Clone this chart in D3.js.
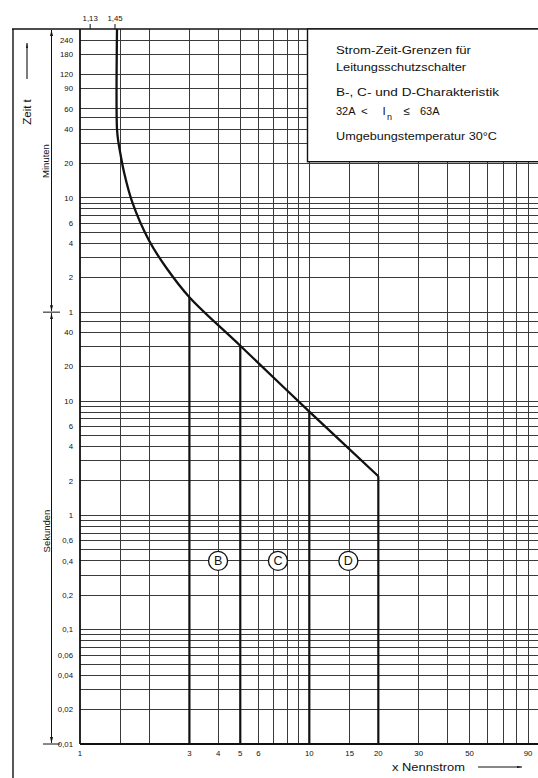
<!DOCTYPE html>
<html>
<head>
<meta charset="utf-8">
<script src="https://cdn.jsdelivr.net/npm/d3@7/dist/d3.min.js"></script>
<style>
  html, body { margin: 0; padding: 0; background: #fff; }
  svg { display: block; }
  .num { font-family: "Liberation Sans", Arial, sans-serif; font-size: 7.8px; fill: #111; }
  .lbl { font-family: "Liberation Sans", Arial, sans-serif; fill: #111; }
</style>
</head>
<body>
<svg id="chart" width="538" height="778"></svg>
<script>
// Multiples of rated current (x) and tripping time (y, seconds)
const currentTicks = [1, 3, 4, 5, 6, 10, 15, 20, 30, 50, 90];
const currentGrid = [1.5, 2, 3, 4, 5, 6, 7, 8, 9, 10, 15, 20, 30, 40, 50, 60, 70, 80, 90];
const topTicks = [1.13, 1.45];

const minuteGrid = [1, 2, 3, 4, 5, 6, 7, 8, 9, 10, 20, 30, 40, 50, 60, 90, 120, 180, 240];
const secondGrid = [0.01, 0.02, 0.03, 0.04, 0.05, 0.06, 0.07, 0.08, 0.09,
                    0.1, 0.2, 0.3, 0.4, 0.5, 0.6, 0.7, 0.8, 0.9,
                    1, 2, 3, 4, 5, 6, 7, 8, 9, 10, 20, 30, 40, 50];
const minuteLabels = [240, 180, 120, 90, 60, 40, 20, 10, 6, 4, 2, 1];
const secondLabels = [40, 20, 10, 6, 4, 2, 1, 0.6, 0.4, 0.2, 0.1, 0.06, 0.04, 0.02, 0.01];

// Upper limit of the tripping curve
const curveCurrent = [1.45, 1.45, 1.47, 1.51, 1.555, 1.69, 2.0, 2.4, 3, 5, 10, 20];
const curveSeconds = [18000, 2400, 1850, 1360, 1010, 550, 254, 143, 81, 30.5, 8.1, 2.2];

// Instantaneous release limits of the characteristics
const boundaryCurrent = [3, 5, 10, 20];
const charNames = ["B", "C", "D"];
const charCurrent = [4, 7.3, 14.8];
const charSeconds = [0.4, 0.4, 0.4];

const svg = d3.select("#chart");

const x = d3.scaleLog().domain([1, 100]).range([80, 538.6]);
const y = d3.scaleLog().domain([0.01, 18000]).range([744, 29]);

const fmt = v => String(v).replace(".", ",");

// Grid
const grid = svg.append("g").attr("shape-rendering", "crispEdges");
const allTimes = secondGrid.concat(minuteGrid.map(m => m * 60));
grid.selectAll("line.h").data(allTimes).join("line")
  .attr("x1", x(1)).attr("x2", 538)
  .attr("y1", d => y(d)).attr("y2", d => y(d))
  .attr("stroke", "#3a3a3a").attr("stroke-width", 1);
grid.selectAll("line.v").data(currentGrid).join("line")
  .attr("x1", d => x(d)).attr("x2", d => x(d))
  .attr("y1", y.range()[1]).attr("y2", y.range()[0])
  .attr("stroke", "#3a3a3a").attr("stroke-width", 1);

// Plot borders and outer frame
svg.append("line").attr("x1", 12).attr("x2", 538).attr("y1", y.range()[1]).attr("y2", y.range()[1])
  .attr("stroke", "#111").attr("stroke-width", 1.6);
svg.append("line").attr("x1", x(1)).attr("x2", 538).attr("y1", y.range()[0]).attr("y2", y.range()[0])
  .attr("stroke", "#111").attr("stroke-width", 2);
svg.append("line").attr("x1", x(1)).attr("x2", x(1)).attr("y1", y.range()[1]).attr("y2", y.range()[0])
  .attr("stroke", "#111").attr("stroke-width", 1.8);
svg.append("line").attr("x1", 13).attr("x2", 13).attr("y1", y.range()[1]).attr("y2", 778)
  .attr("stroke", "#111").attr("stroke-width", 1.4);

// Boundaries between characteristics
const curveAt = c => curveSeconds[curveCurrent.lastIndexOf(c)];
svg.selectAll("line.b").data(boundaryCurrent).join("line")
  .attr("x1", d => x(d)).attr("x2", d => x(d))
  .attr("y1", d => y(curveAt(d))).attr("y2", y(0.01))
  .attr("stroke", "#111").attr("stroke-width", 2.2);

// Tripping curve
const pts = curveCurrent.map((c, i) => [x(c), y(curveSeconds[i])]);
svg.append("path")
  .attr("d", d3.line().curve(d3.curveCatmullRom.alpha(0.5))(pts))
  .attr("fill", "none").attr("stroke", "#111").attr("stroke-width", 2.3);

// Characteristic markers
const marks = svg.selectAll("g.mark").data(charNames).join("g")
  .attr("transform", (d, i) => `translate(${x(charCurrent[i])},${y(charSeconds[i])})`);
marks.append("circle").attr("r", 9.5).attr("fill", "#fff").attr("stroke", "#111").attr("stroke-width", 1.3);
marks.append("text").attr("class", "lbl").attr("text-anchor", "middle").attr("dy", "0.36em")
  .attr("font-size", 12.5).text(d => d);

// Time tick labels
svg.selectAll("text.ym").data(minuteLabels).join("text").attr("class", "num")
  .attr("x", 73).attr("y", d => y(d * 60)).attr("dy", "0.35em").attr("text-anchor", "end")
  .text(fmt);
svg.selectAll("text.ys").data(secondLabels).join("text").attr("class", "num")
  .attr("x", 73).attr("y", d => y(d)).attr("dy", "0.35em").attr("text-anchor", "end")
  .text(fmt);

// Current tick labels
svg.selectAll("text.xt").data(currentTicks).join("text").attr("class", "num")
  .attr("x", d => x(d)).attr("y", 756).attr("text-anchor", "middle").text(fmt);
svg.selectAll("line.tt").data(topTicks).join("line")
  .attr("x1", d => x(d) - 2).attr("x2", d => x(d) - 2).attr("y1", 24).attr("y2", y.range()[1])
  .attr("stroke", "#111").attr("stroke-width", 1);
svg.selectAll("text.tt").data(topTicks).join("text").attr("class", "num")
  .attr("x", d => x(d) - 2).attr("y", 21).attr("text-anchor", "middle").attr("font-size", 7).text(fmt);

// Arrowheads
const defs = svg.append("defs");
defs.append("marker").attr("id", "arr").attr("viewBox", "0 0 10 10").attr("refX", 10).attr("refY", 5)
  .attr("markerWidth", 6).attr("markerHeight", 6).attr("markerUnits", "userSpaceOnUse")
  .attr("orient", "auto-start-reverse")
  .append("path").attr("d", "M0,2.5 L10,5 L0,7.5 Z").attr("fill", "#111");
defs.append("marker").attr("id", "arrLong").attr("viewBox", "0 0 10 10").attr("refX", 10).attr("refY", 5)
  .attr("markerWidth", 10).attr("markerHeight", 5).attr("markerUnits", "userSpaceOnUse")
  .attr("orient", "auto")
  .append("path").attr("d", "M0,3 L10,5 L0,7 Z").attr("fill", "#111");

// Time dimension lines (minutes / seconds)
const axX = 51.5;
svg.append("line").attr("x1", axX).attr("x2", axX).attr("y1", y.range()[1] + 1).attr("y2", y(60) - 1)
  .attr("stroke", "#111").attr("stroke-width", 1).attr("marker-start", "url(#arr)").attr("marker-end", "url(#arr)");
svg.append("line").attr("x1", axX).attr("x2", axX).attr("y1", y(60) + 1).attr("y2", y(0.01) - 1)
  .attr("stroke", "#111").attr("stroke-width", 1).attr("marker-start", "url(#arr)").attr("marker-end", "url(#arr)");
[60, 0.01].forEach(t => {
  svg.append("line").attr("x1", 43).attr("x2", 60).attr("y1", y(t)).attr("y2", y(t))
    .attr("stroke", "#111").attr("stroke-width", 1);
});
svg.append("text").attr("class", "lbl").attr("font-size", 9.5).attr("text-anchor", "middle")
  .attr("transform", `translate(48.5,${y(1260)}) rotate(-90)`).text("Minuten");
svg.append("text").attr("class", "lbl").attr("font-size", 9.5).attr("text-anchor", "middle")
  .attr("transform", `translate(49.5,${y(0.73)}) rotate(-90)`).text("Sekunden");

// "Zeit t" with arrow
svg.append("text").attr("class", "lbl").attr("font-size", 11.5).attr("text-anchor", "middle")
  .attr("transform", "translate(31,112) rotate(-90)").text("Zeit t");
svg.append("line").attr("x1", 27).attr("x2", 27).attr("y1", 79).attr("y2", 43)
  .attr("stroke", "#111").attr("stroke-width", 1.1).attr("marker-end", "url(#arrLong)");

// "x Nennstrom" with arrow
svg.append("text").attr("class", "lbl").attr("font-size", 10.5).attr("x", 392).attr("y", 771)
  .attr("textLength", 73).attr("lengthAdjust", "spacingAndGlyphs").text("x  Nennstrom");
svg.append("line").attr("x1", 478).attr("x2", 522).attr("y1", 767).attr("y2", 767)
  .attr("stroke", "#111").attr("stroke-width", 1.1).attr("marker-end", "url(#arrLong)");

// Legend box
const box = svg.append("g");
box.append("rect").attr("x", 307.5).attr("y", y.range()[1]).attr("width", 240).attr("height", 161.7 - y.range()[1])
  .attr("fill", "#fff").attr("stroke", "#111").attr("stroke-width", 1.4);
const boxLines = [
  { t: "Strom-Zeit-Grenzen für", y: 54, w: 135 },
  { t: "Leitungsschutzschalter", y: 71, w: 130 },
  { t: "B-, C- und D-Charakteristik", y: 96, w: 163 },
  { t: "Umgebungstemperatur 30°C", y: 140, w: 161 }
];
box.selectAll("text.bl").data(boxLines).join("text").attr("class", "lbl")
  .attr("x", 336).attr("y", d => d.y).attr("font-size", 11.5)
  .attr("textLength", d => d.w).attr("lengthAdjust", "spacingAndGlyphs").text(d => d.t);
const rangeParts = [
  { t: "32A", x: 336, y: 114.5, s: 11 },
  { t: "<", x: 361, y: 114.5, s: 11.5 },
  { t: "I", x: 382.5, y: 114.5, s: 11.5 },
  { t: "n", x: 387, y: 119.5, s: 9 },
  { t: "≤", x: 403.5, y: 114.5, s: 11.5 },
  { t: "63A", x: 420, y: 114.5, s: 11 }
];
box.selectAll("text.rp").data(rangeParts).join("text").attr("class", "lbl")
  .attr("x", d => d.x).attr("y", d => d.y).attr("font-size", d => d.s)
  .text(d => d.t);
</script>
</body>
</html>
